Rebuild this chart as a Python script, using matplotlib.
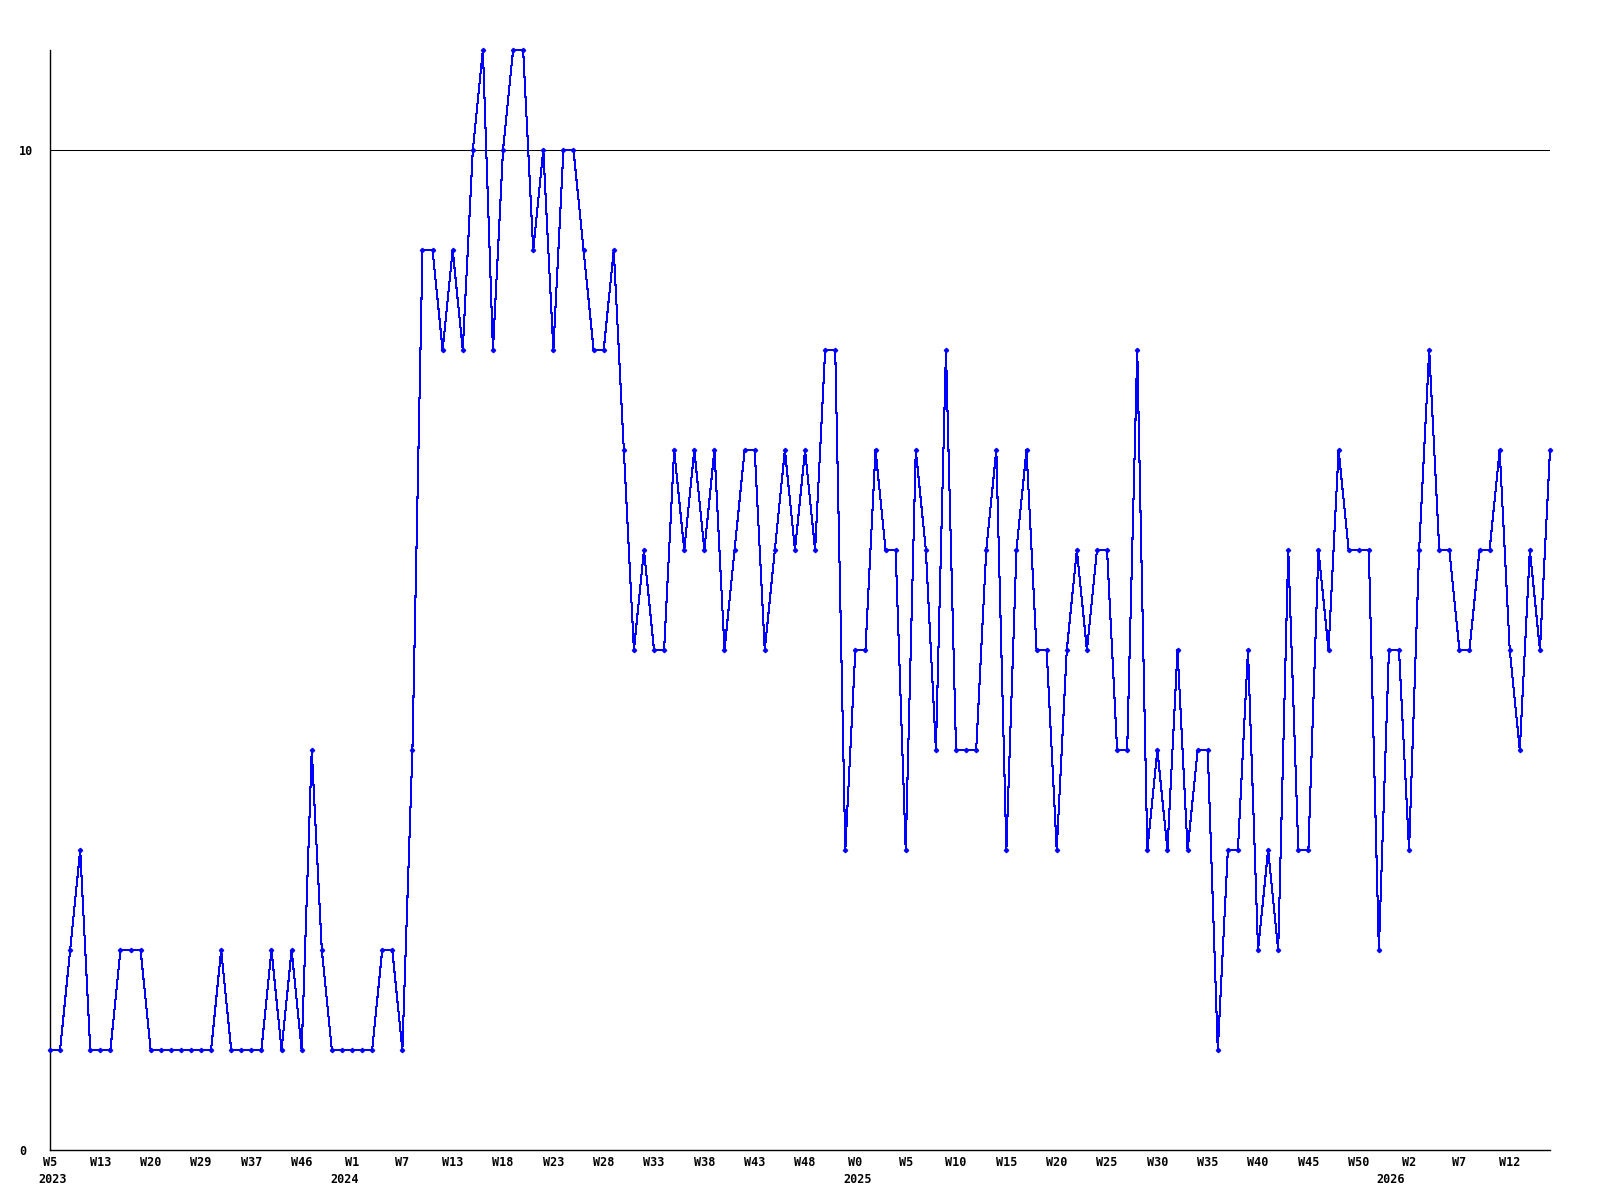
import matplotlib
matplotlib.use('Agg')
import matplotlib.pyplot as plt
import matplotlib.transforms as mtransforms

# weekly counts
values = [
    1, 1, 2, 3, 1, 1, 1, 2, 2, 2,
    1, 1, 1, 1, 1, 1, 1, 2, 1, 1,
    1, 1, 2, 1, 2, 1, 4, 2, 1, 1,
    1, 1, 1, 2, 2, 1, 4, 9, 9, 8,
    9, 8, 10, 11, 8, 10, 11, 11, 9, 10,
    8, 10, 10, 9, 8, 8, 9, 7, 5, 6,
    5, 5, 7, 6, 7, 6, 7, 5, 6, 7,
    7, 5, 6, 7, 6, 7, 6, 8, 8, 3,
    5, 5, 7, 6, 6, 3, 7, 6, 4, 8,
    4, 4, 4, 6, 7, 3, 6, 7, 5, 5,
    3, 5, 6, 5, 6, 6, 4, 4, 8, 3,
    4, 3, 5, 3, 4, 4, 1, 3, 3, 5,
    2, 3, 2, 6, 3, 3, 6, 5, 7, 6,
    6, 6, 2, 5, 5, 3, 6, 8, 6, 6,
    5, 5, 6, 6, 7, 5, 4, 6, 5, 7,
]

# one label every 5 points
week_labels = ['W5', 'W13', 'W20', 'W29', 'W37', 'W46', 'W1', 'W7', 'W13', 'W18',
               'W23', 'W28', 'W33', 'W38', 'W43', 'W48', 'W0', 'W5', 'W10', 'W15',
               'W20', 'W25', 'W30', 'W35', 'W40', 'W45', 'W50', 'W2', 'W7', 'W12']
# year labels and where each year starts (in point index)
years = ['2023', '2024', '2025', '2026']
year_start = [0.3, 29.3, 80.2, 133.2]

font = 'DejaVu Sans Mono'

fig = plt.figure(figsize=(16, 12), dpi=100)
ax = fig.add_axes([50 / 1600, 50 / 1200, 1500 / 1600, 1100 / 1200])

x = list(range(len(values)))
ax.plot(x, values, color='#0000ff', lw=0.75, marker='D', ms=2.2,
        mec='#0000ff', mfc='#0000ff', antialiased=False, clip_on=False, zorder=3)

ax.axhline(10, color='black', lw=0.75, zorder=1)

ax.set_xlim(0, len(values) - 1)
ax.set_ylim(0, 11)

ax.spines['top'].set_visible(False)
ax.spines['right'].set_visible(False)
for s in ['left', 'bottom']:
    ax.spines[s].set_linewidth(1.0)
    ax.spines[s].set_color('black')

ticks = [i * 5 for i in range(len(week_labels))]
ax.set_xticks(ticks)
ax.set_xticklabels(week_labels, fontfamily=font, fontweight='bold', fontsize=8.5)
ax.tick_params(axis='x', length=0, pad=4)

# year line under the week labels
trans = mtransforms.blended_transform_factory(ax.transData, fig.transFigure)
for yr, pos in zip(years, year_start):
    ax.text(pos, 1 - 1173 / 1200, yr, transform=trans, ha='center', va='top',
            fontfamily=font, fontweight='bold', fontsize=8.5)

ax.set_yticks([0, 10])
ax.set_yticklabels(['0', '10'], fontfamily=font, fontweight='bold', fontsize=8.5)
ax.tick_params(axis='y', length=0, pad=22.3)
for t in ax.get_yticklabels():
    t.set_horizontalalignment('left')

plt.savefig('out.png', dpi=100, facecolor='white')
